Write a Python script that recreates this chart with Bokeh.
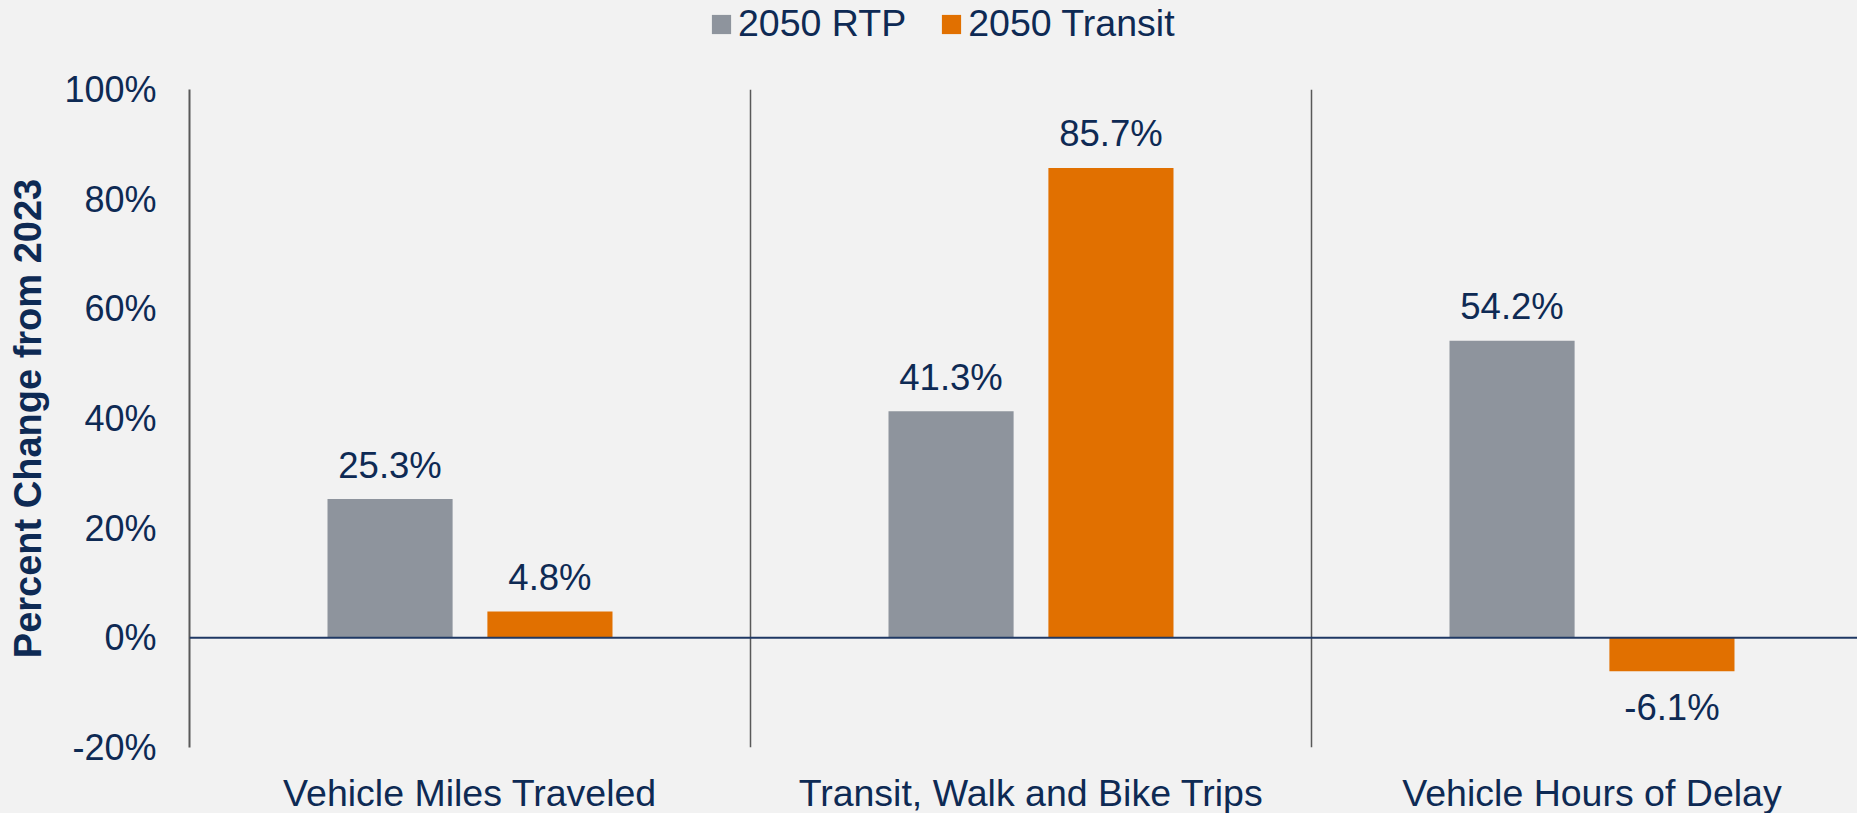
from bokeh.plotting import figure
from bokeh.layouts import column
from bokeh.models import (ColumnDataSource, Range1d, Span, Legend, LegendItem,
                          FixedTicker, LinearAxis)
from bokeh.embed import file_html
from bokeh.resources import INLINE
from bokeh.core.properties import value

categories = ["Vehicle Miles Traveled", "Transit, Walk and Bike Trips", "Vehicle Hours of Delay"]
series_names = ["2050 RTP", "2050 Transit"]
rtp_values = [25.3, 41.3, 54.2]
transit_values = [4.8, 85.7, -6.1]
y_ticks = [-20, 0, 20, 40, 60, 80, 100]

GRAY = "#8E949D"
ORANGE = "#E17000"
NAVY = "#0E2A54"
AXIS = "#595959"
BG = "#F2F2F2"
FONT = "Liberation Sans"
FS = "36px"

W = 1857
H_TOP = 59
H_MAIN = 813 - H_TOP
ML, MT, MB = 189, 30, 66
FW = W - ML
FH = H_MAIN - MT - MB
CAT_PX = 561.0

centers = [i + 0.5 for i in range(len(categories))]
offset = 0.1425
bar_w = 0.223

# ---- legend strip ----
top = figure(width=W, height=H_TOP, output_backend="svg", toolbar_location=None, title=None,
             x_range=Range1d(0, 1), y_range=Range1d(0, 1),
             min_border_left=0, min_border_right=0, min_border_top=0, min_border_bottom=0,
             x_axis_location=None, y_axis_location=None)
top.background_fill_alpha = 0
top.border_fill_alpha = 0
top.outline_line_color = None
top.xgrid.visible = False
top.ygrid.visible = False
# legend keys only: one point each, kept outside the visible range
d1 = top.vbar(x=[-5], top=[-5], bottom=-6, width=0.1, fill_color=GRAY, line_color=None)
d2 = top.vbar(x=[-5], top=[-5], bottom=-6, width=0.1, fill_color=ORANGE, line_color=None)
legend = Legend(items=[LegendItem(label=series_names[0], renderers=[d1]),
                       LegendItem(label=series_names[1], renderers=[d2])],
                orientation="horizontal", location=(520, 14),
                glyph_width=24, glyph_height=24, label_standoff=5, spacing=33,
                padding=0, margin=0, border_line_color=None, background_fill_alpha=0,
                label_text_font=FONT, label_text_font_size="37.5px", label_text_color=NAVY)
top.add_layout(legend, "center")

# ---- main chart ----
p = figure(width=W, height=H_MAIN, output_backend="svg", toolbar_location=None, title=None,
           x_range=Range1d(0, FW / CAT_PX), y_range=Range1d(-20, 100),
           min_border_left=ML, min_border_top=MT, min_border_bottom=MB, min_border_right=0,
           x_axis_location=None, y_axis_location=None)
p.frame_width = FW
p.frame_height = FH
p.background_fill_color = BG
p.border_fill_color = BG
p.outline_line_color = None
p.xgrid.visible = False
p.ygrid.visible = False

x_rtp = [c - offset for c in centers]
x_tr = [c + offset for c in centers]
src_rtp = ColumnDataSource(dict(x=x_rtp, top=rtp_values))
src_tr = ColumnDataSource(dict(x=x_tr, top=transit_values))

p.vbar(x="x", top="top", bottom=0, width=bar_w, source=src_rtp, fill_color=GRAY, line_color=None)
p.vbar(x="x", top="top", bottom=0, width=bar_w, source=src_tr, fill_color=ORANGE, line_color=None)

for xb in [1, 2]:
    p.add_layout(Span(location=xb, dimension="height", line_color=AXIS, line_width=1.5))
p.add_layout(Span(location=0, dimension="width", line_color="#1F3864", line_width=2))

all_x = x_rtp + x_tr
all_v = rtp_values + transit_values
px_ = [x for x, v in zip(all_x, all_v) if v >= 0]
pv_ = [v for v in all_v if v >= 0]
nx_ = [x for x, v in zip(all_x, all_v) if v < 0]
nv_ = [v for v in all_v if v < 0]
p.text(x=px_, y=pv_, text=[f"{v:.1f}%" for v in pv_], text_align="center",
       text_baseline="alphabetic", y_offset=-34, text_color=NAVY, text_font=value(FONT), text_font_size="36.5px")
p.text(x=nx_, y=nv_, text=[f"{v:.1f}%" for v in nv_], text_align="center",
       text_baseline="alphabetic", y_offset=36, text_color=NAVY, text_font=value(FONT), text_font_size="36.5px")

yax = LinearAxis(ticker=FixedTicker(ticks=y_ticks))
yax.major_label_overrides = {t: f"{t}%" for t in y_ticks}
yax.axis_line_color = AXIS
yax.axis_line_width = 2
yax.major_tick_line_color = None
yax.minor_tick_line_color = None
yax.major_tick_out = 0
yax.major_tick_in = 0
yax.major_label_standoff = 33
yax.major_label_text_font = FONT
yax.major_label_text_font_size = FS
yax.major_label_text_color = NAVY
yax.axis_label = "Percent Change from 2023"
yax.axis_label_text_font = FONT
yax.axis_label_text_font_style = "bold"
yax.axis_label_text_font_size = "38px"
yax.axis_label_text_color = NAVY
yax.axis_label_standoff = 12
p.add_layout(yax, "left")

xax = LinearAxis(ticker=FixedTicker(ticks=centers))
xax.major_label_overrides = {c: name for c, name in zip(centers, categories)}
xax.axis_line_color = None
xax.major_tick_line_color = None
xax.minor_tick_line_color = None
xax.major_tick_out = 0
xax.major_tick_in = 0
xax.major_label_standoff = 24
xax.major_label_text_font = FONT
xax.major_label_text_font_size = "37.5px"
xax.major_label_text_color = NAVY
p.add_layout(xax, "below")

layout = column(top, p, spacing=0, styles={"background-color": BG})
open("out.html", "w").write(file_html(layout, INLINE))
